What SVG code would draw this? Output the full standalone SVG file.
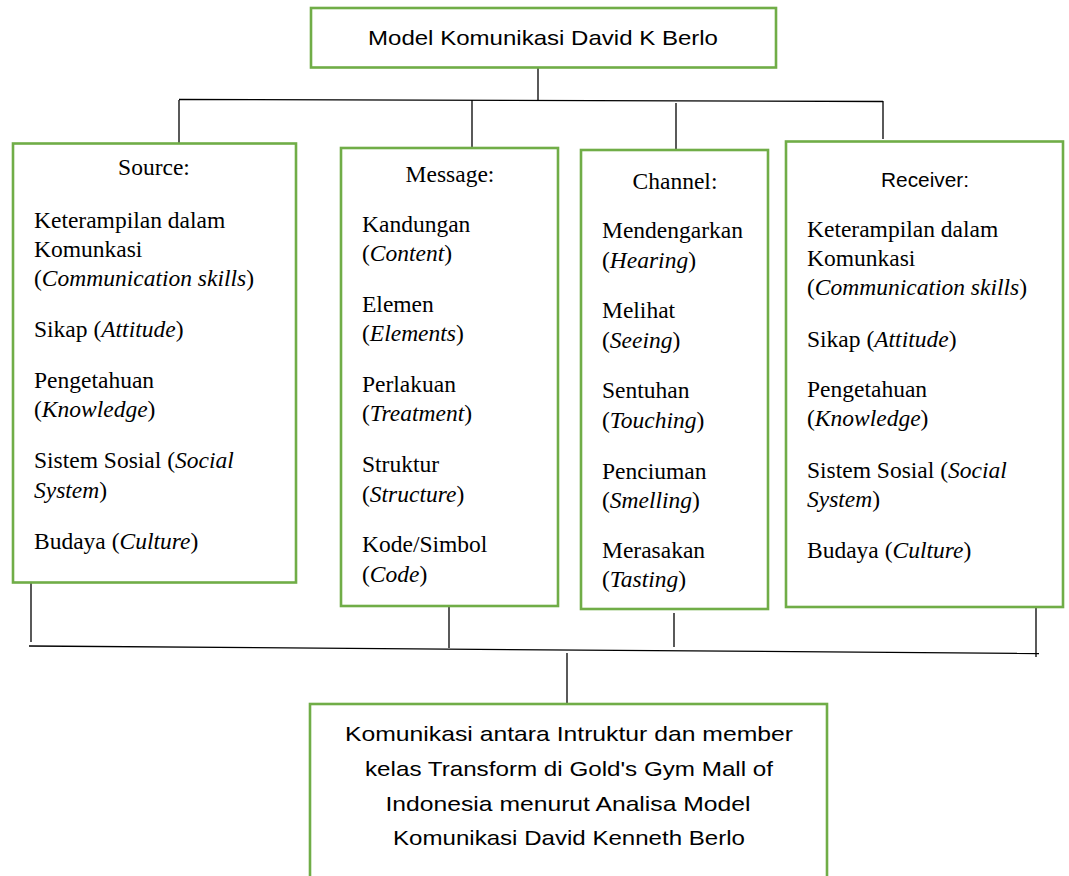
<svg xmlns="http://www.w3.org/2000/svg" width="1069" height="876" viewBox="0 0 1069 876">
<style>
.box{fill:#fff;stroke:#70AD47;stroke-width:2.6}
.ln{stroke:#000;stroke-width:1.3;fill:none}
.s{font-family:"Liberation Sans",Arial,sans-serif;font-size:21px;fill:#000}
.t{font-family:"Liberation Serif","DejaVu Serif",serif;font-size:23.5px;fill:#000}
.c{text-anchor:middle}
.i{font-family:"Liberation Serif","DejaVu Serif",serif;font-style:italic}
</style>
<rect width="1069" height="876" fill="#fff"/>
<g id="connectors">
<line class="ln" x1="538" y1="68" x2="538" y2="100"/>
<line class="ln" x1="179" y1="99.5" x2="883" y2="101.5"/>
<line class="ln" x1="179" y1="100" x2="179" y2="143"/>
<line class="ln" x1="472" y1="100" x2="472" y2="148"/>
<line class="ln" x1="676" y1="103" x2="676" y2="150"/>
<line class="ln" x1="883" y1="101" x2="883" y2="139"/>
<line class="ln" x1="31" y1="583" x2="31" y2="642"/>
<line class="ln" x1="29" y1="646" x2="1039" y2="653.5"/>
<line class="ln" x1="449" y1="606" x2="449" y2="648"/>
<line class="ln" x1="674" y1="613" x2="674" y2="647"/>
<line class="ln" x1="1036" y1="607" x2="1036" y2="657"/>
<line class="ln" x1="567" y1="653" x2="567" y2="704"/>
</g>
<g id="title">
<rect class="box" x="311" y="8" width="465" height="59.5"/>
<text class="s c" x="543" y="45" textLength="350" lengthAdjust="spacingAndGlyphs">Model Komunikasi David K Berlo</text>
</g>
<g id="source">
<rect class="box" x="13" y="143.5" width="283" height="439"/>
<text class="t c" x="154" y="175">Source:</text>
<text class="t" x="34" y="228">Keterampilan dalam</text>
<text class="t" x="34" y="257">Komunkasi</text>
<text class="t" x="34" y="286">(<tspan class="i">Communication skills</tspan>)</text>
<text class="t" x="34" y="337">Sikap (<tspan class="i">Attitude</tspan>)</text>
<text class="t" x="34" y="388">Pengetahuan</text>
<text class="t" x="34" y="417">(<tspan class="i">Knowledge</tspan>)</text>
<text class="t" x="34" y="468">Sistem Sosial (<tspan class="i">Social</tspan></text>
<text class="t" x="34" y="498"><tspan class="i">System</tspan>)</text>
<text class="t" x="34" y="549">Budaya (<tspan class="i">Culture</tspan>)</text>
</g>
<g id="message">
<rect class="box" x="341" y="148" width="217" height="458"/>
<text class="t c" x="450" y="182">Message:</text>
<text class="t" x="362" y="232">Kandungan</text>
<text class="t" x="362" y="261">(<tspan class="i">Content</tspan>)</text>
<text class="t" x="362" y="312">Elemen</text>
<text class="t" x="362" y="341">(<tspan class="i">Elements</tspan>)</text>
<text class="t" x="362" y="392">Perlakuan</text>
<text class="t" x="362" y="421">(<tspan class="i">Treatment</tspan>)</text>
<text class="t" x="362" y="472">Struktur</text>
<text class="t" x="362" y="502">(<tspan class="i">Structure</tspan>)</text>
<text class="t" x="362" y="552">Kode/Simbol</text>
<text class="t" x="362" y="582">(<tspan class="i">Code</tspan>)</text>
</g>
<g id="channel">
<rect class="box" x="581" y="150" width="187" height="459"/>
<text class="t c" x="675" y="189">Channel:</text>
<text class="t" x="602" y="238">Mendengarkan</text>
<text class="t" x="602" y="268">(<tspan class="i">Hearing</tspan>)</text>
<text class="t" x="602" y="318">Melihat</text>
<text class="t" x="602" y="348">(<tspan class="i">Seeing</tspan>)</text>
<text class="t" x="602" y="398">Sentuhan</text>
<text class="t" x="602" y="428">(<tspan class="i">Touching</tspan>)</text>
<text class="t" x="602" y="479">Penciuman</text>
<text class="t" x="602" y="508">(<tspan class="i">Smelling</tspan>)</text>
<text class="t" x="602" y="558">Merasakan</text>
<text class="t" x="602" y="587">(<tspan class="i">Tasting</tspan>)</text>
</g>
<g id="receiver">
<rect class="box" x="786" y="141.5" width="277" height="465.5"/>
<text class="s c" x="925" y="187" textLength="88" lengthAdjust="spacingAndGlyphs">Receiver:</text>
<text class="t" x="807" y="237">Keterampilan dalam</text>
<text class="t" x="807" y="266">Komunkasi</text>
<text class="t" x="807" y="295">(<tspan class="i">Communication skills</tspan>)</text>
<text class="t" x="807" y="347">Sikap (<tspan class="i">Attitude</tspan>)</text>
<text class="t" x="807" y="397">Pengetahuan</text>
<text class="t" x="807" y="426">(<tspan class="i">Knowledge</tspan>)</text>
<text class="t" x="807" y="478">Sistem Sosial (<tspan class="i">Social</tspan></text>
<text class="t" x="807" y="507"><tspan class="i">System</tspan>)</text>
<text class="t" x="807" y="558">Budaya (<tspan class="i">Culture</tspan>)</text>
</g>
<g id="result">
<rect class="box" x="310" y="704" width="517" height="180"/>
<text class="s c" x="569" y="741" textLength="448" lengthAdjust="spacingAndGlyphs">Komunikasi antara Intruktur dan member</text>
<text class="s c" x="569" y="776" textLength="408" lengthAdjust="spacingAndGlyphs">kelas Transform di Gold's Gym Mall of</text>
<text class="s c" x="568" y="811" textLength="365" lengthAdjust="spacingAndGlyphs">Indonesia menurut Analisa Model</text>
<text class="s c" x="569" y="845" textLength="352" lengthAdjust="spacingAndGlyphs">Komunikasi David Kenneth Berlo</text>
</g>
</svg>
